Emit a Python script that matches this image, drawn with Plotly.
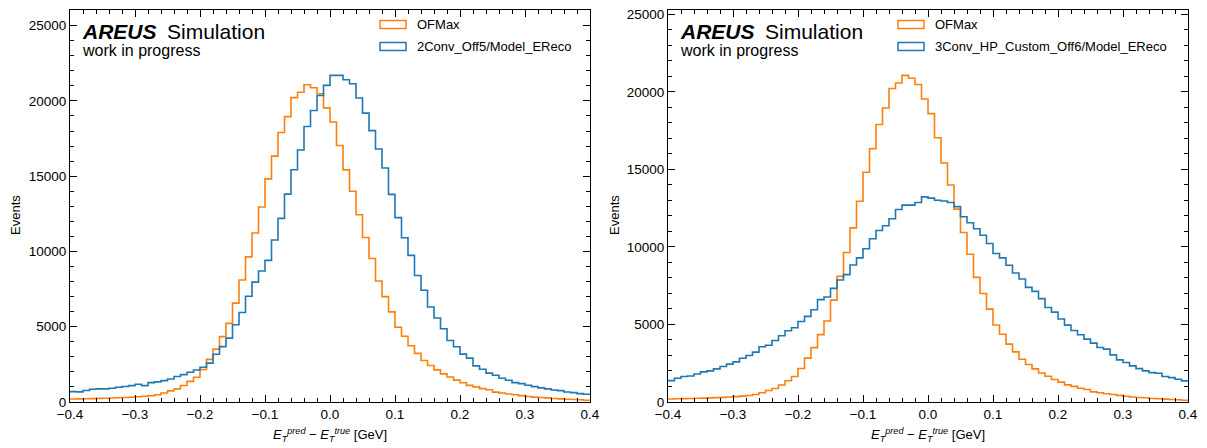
import numpy as np
import plotly.graph_objects as go

# ---------------- data (counts per 0.01 GeV bin, -0.4 .. 0.4) ----------------
bin_lo, bin_hi, bin_w = -0.4, 0.4, 0.01

ofmax = [195, 205, 215, 225, 240, 250, 265, 280, 300, 320,
         345, 380, 420, 480, 600, 740, 870, 1100, 1370, 1640,
         2160, 2830, 3510, 4345, 5220, 6570, 8100, 9640, 11230, 12950,
         14820, 16330, 17900, 18960, 20220, 20580, 21070, 20880, 20480, 19540,
         18600, 17040, 15420, 14000, 12440, 10930, 9530, 8040, 7000, 5990,
         4970, 4370, 3735, 3230, 2760, 2420, 2135, 1870, 1665, 1450,
         1280, 1105, 1005, 890, 810, 655, 600, 535, 480, 425,
         370, 325, 295, 275, 230, 210, 185, 165, 145, 115]

conv2_off5 = [690, 670, 760, 850, 870, 870, 915, 980, 1025, 1090,
              1180, 1090, 1290, 1335, 1420, 1530, 1690, 1820, 1980, 2130,
              2310, 2580, 3170, 3680, 4240, 5130, 5950, 7020, 7960, 8700,
              9405, 10760, 12200, 13810, 15430, 16740, 18300, 19360, 20360, 21030,
              21700, 21700, 21410, 21140, 20190, 19190, 18030, 16810, 15540, 13790,
              12250, 10915, 9740, 8400, 7425, 6315, 5580, 4870, 4090, 3670,
              3180, 2915, 2400, 2180, 1915, 1780, 1580, 1445, 1290, 1220,
              1110, 1020, 935, 870, 800, 755, 665, 620, 555, 510]

conv3_hp_off6 = [1380, 1530, 1640, 1680, 1810, 1940, 2005, 2135, 2285, 2440,
                 2590, 2825, 2995, 3215, 3560, 3665, 3965, 4270, 4595, 4790,
                 5195, 5520, 5950, 6600, 6775, 7330, 7870, 8215, 8840, 9295,
                 9880, 10525, 11065, 11365, 11820, 12420, 12700, 12700, 12870, 13230,
                 13150, 13010, 12960, 12870, 12600, 11950, 11560, 11175, 10760, 10225,
                 9575, 9295, 8820, 8325, 7935, 7395, 7135, 6665, 6100, 5800,
                 5350, 4960, 4615, 4335, 4055, 3795, 3515, 3410, 3040, 2715,
                 2545, 2330, 2155, 2005, 1895, 1855, 1640, 1575, 1470, 1360]

label_ref = "OFMax"
label_left = "2Conv_Off5/Model_EReco"
label_right = "3Conv_HP_Custom_Off6/Model_EReco"

x_ticks = [-0.4, -0.3, -0.2, -0.1, 0.0, 0.1, 0.2, 0.3, 0.4]
y_ticks = [0, 5000, 10000, 15000, 20000, 25000]

# ---------------- styling ----------------
W, H = 1207, 448
ORANGE = "#ff7f0e"
BLUE = "#1f77b4"
FONT = "Liberation Sans, Arial, Helvetica, sans-serif"

edges = np.round(np.linspace(bin_lo, bin_hi, len(ofmax) + 1), 4)


def step_xy(counts):
    xs = list(edges)
    ys = list(counts) + [counts[-1]]
    return xs, ys


def px(x):
    return x / W


def py(y):
    return 1 - y / H


panels = [
    dict(dom=(70, 590), series=conv2_off5, label=label_left, xa="x", ya="y",
         ytitle_x=15),
    dict(dom=(668, 1188), series=conv3_hp_off6, label=label_right, xa="x2", ya="y2",
         ytitle_x=614),
]

top_px, bot_px = 10, 402

fig = go.Figure()
annotations = []
shapes = []

for i, p in enumerate(panels):
    for counts, col in ((ofmax, ORANGE), (p["series"], BLUE)):
        xs, ys = step_xy(counts)
        fig.add_trace(go.Scatter(x=xs, y=ys, mode="lines", line_shape="hv",
                                 line=dict(color=col, width=1.6),
                                 xaxis=p["xa"], yaxis=p["ya"], showlegend=False,
                                 hoverinfo="skip"))
    ymax = 1.2 * max(max(ofmax), max(p["series"]))
    suffix = "" if i == 0 else "2"
    axis_common = dict(showline=True, linecolor="black", linewidth=1.2, mirror="ticks",
                       ticks="inside", ticklen=7, tickwidth=1, tickcolor="black",
                       showgrid=False, zeroline=False, automargin=False,
                       tickfont=dict(family=FONT, size=13.5, color="black"))
    fig.layout["xaxis" + suffix] = dict(
        axis_common, domain=[px(p["dom"][0]), px(p["dom"][1])], range=[bin_lo, bin_hi],
        tickvals=x_ticks, tickformat=".1f",
        minor=dict(dtick=0.02, ticks="inside", ticklen=4, tickcolor="black", showgrid=False),
        anchor="y" + suffix)
    fig.layout["yaxis" + suffix] = dict(
        axis_common, domain=[py(bot_px), py(top_px)], range=[0, ymax],
        tickvals=y_ticks, tickformat="d",
        minor=dict(dtick=1000, ticks="inside", ticklen=4, tickcolor="black", showgrid=False),
        anchor="x" + suffix)

    x0 = p["dom"][0]
    # experiment label
    annotations.append(dict(x=px(x0 + 10), y=py(31), xref="paper", yref="paper",
                            xanchor="left", yanchor="middle", showarrow=False,
                            text="<b><i>AREUS</i></b>\u2002Simulation",
                            font=dict(family=FONT, size=21, color="black")))
    annotations.append(dict(x=px(x0 + 10), y=py(51), xref="paper", yref="paper",
                            xanchor="left", yanchor="middle", showarrow=False,
                            text="work in progress",
                            font=dict(family=FONT, size=16, color="black")))
    # axis titles
    annotations.append(dict(x=px((p["dom"][0] + p["dom"][1]) / 2), y=py(435),
                            xref="paper", yref="paper", xanchor="center", yanchor="middle",
                            showarrow=False,
                            text="<i>E</i><sub><i>T</i></sub><sup><i>pred</i></sup> \u2212 "
                                 "<i>E</i><sub><i>T</i></sub><sup><i>true</i></sup> [GeV]",
                            font=dict(family=FONT, size=13, color="black")))
    annotations.append(dict(x=px(p["ytitle_x"]), y=py(215), xref="paper", yref="paper",
                            xanchor="center", yanchor="middle", showarrow=False,
                            textangle=-90, text="Events",
                            font=dict(family=FONT, size=13, color="black")))
    # legend (outlined patches like a step histogram legend)
    lx0 = x0 + (310 if i == 0 else 230)
    for k, (lab, col) in enumerate(((label_ref, ORANGE), (p["label"], BLUE))):
        yc = 24.5 + 22 * k
        shapes.append(dict(type="rect", xref="paper", yref="paper",
                           x0=px(lx0), x1=px(lx0 + 26), y0=py(yc - 4), y1=py(yc + 4),
                           line=dict(color=col, width=1.5), fillcolor="rgba(0,0,0,0)"))
        annotations.append(dict(x=px(lx0 + 35), y=py(yc), xref="paper", yref="paper",
                                xanchor="left", yanchor="middle", showarrow=False,
                                text=lab, font=dict(family=FONT, size=13, color="black")))

fig.update_layout(width=W, height=H, margin=dict(l=0, r=0, t=0, b=0, autoexpand=False),
                  paper_bgcolor="white", plot_bgcolor="white",
                  annotations=annotations, shapes=shapes, showlegend=False)

fig.write_html("out.html")
